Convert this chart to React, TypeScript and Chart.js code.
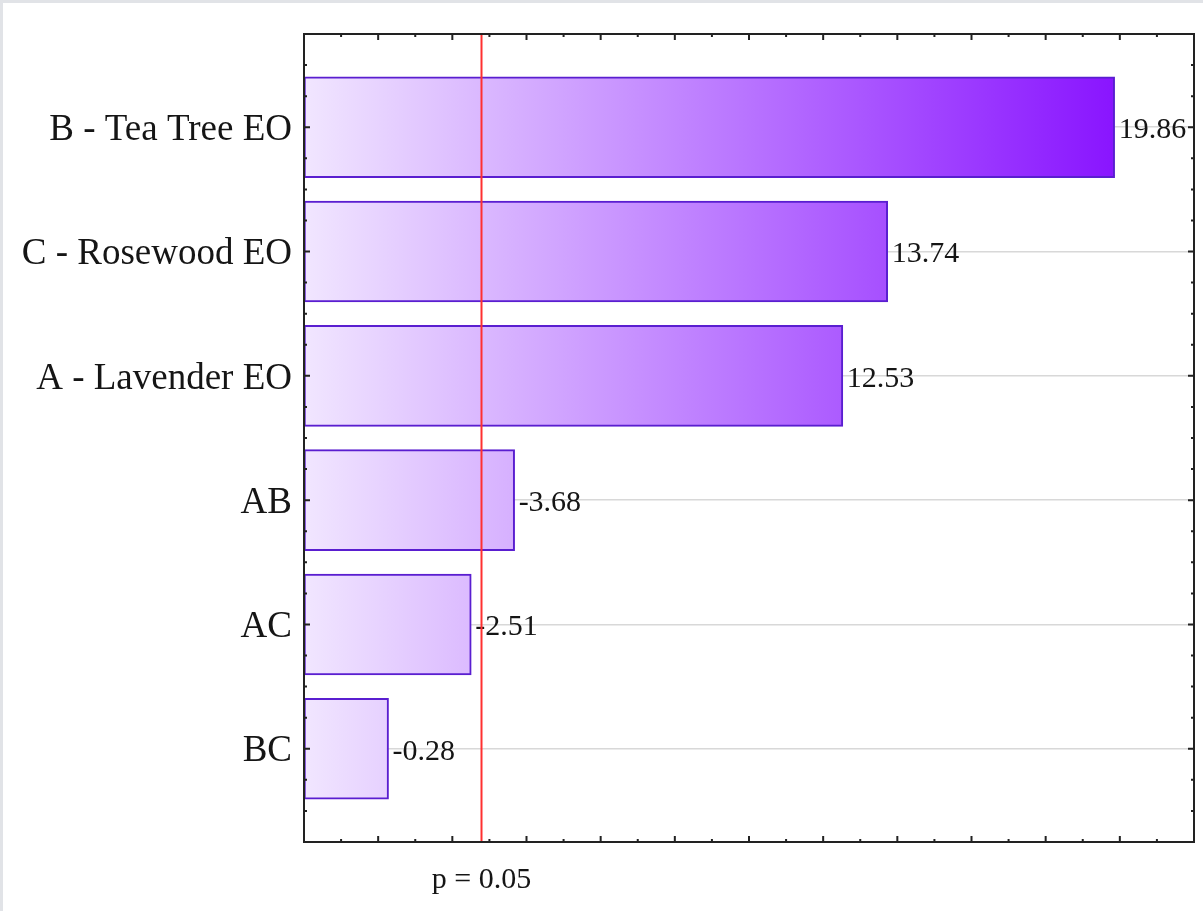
import React, { useEffect, useRef } from "react";
import { Chart, registerables } from "chart.js";

Chart.register(...registerables);

// ---- data ----
const categories: string[] = [
  "B - Tea Tree EO",
  "C - Rosewood EO",
  "A - Lavender EO",
  "AB",
  "AC",
  "BC",
];
const effects: number[] = [19.86, 13.74, 12.53, -3.68, -2.51, -0.28];
const pLimit = 2.776; // t-value for p = 0.05
const pLabel = "p = 0.05";
const xMin = -2;
const xMax = 22;

const SERIF = "'Liberation Serif', 'DejaVu Serif', serif";

export default function App() {
  const canvasRef = useRef<HTMLCanvasElement | null>(null);

  useEffect(() => {
    document.body.style.margin = "0";
    const canvas = canvasRef.current;
    if (!canvas) return;

    const overlay = {
      id: "paretoOverlay",
      afterDatasetsDraw(chart: any) {
        const { ctx, chartArea } = chart;
        const xs = chart.scales.x;
        const ys = chart.scales.y;
        const { left, right, top, bottom } = chartArea;
        ctx.save();

        // value labels
        ctx.font = `30px ${SERIF}`;
        ctx.fillStyle = "#151515";
        ctx.textAlign = "left";
        ctx.textBaseline = "middle";
        effects.forEach((v, i) => {
          const x = xs.getPixelForValue(Math.abs(v));
          const y = ys.getPixelForValue(i);
          ctx.fillText(v.toFixed(2), x + 4, y + 3);
        });

        // significance line
        const px = Math.round(xs.getPixelForValue(pLimit)) + 0.5;
        ctx.strokeStyle = "#ff3030";
        ctx.lineWidth = 2;
        ctx.beginPath();
        ctx.moveTo(px, top);
        ctx.lineTo(px, bottom);
        ctx.stroke();

        // frame
        ctx.strokeStyle = "#222222";
        ctx.lineWidth = 2;
        ctx.strokeRect(left, top, right - left, bottom - top);

        // inward ticks on x (top + bottom)
        ctx.lineWidth = 2;
        for (let v = Math.ceil(xMin); v <= xMax; v += 1) {
          const x = xs.getPixelForValue(v);
          if (x <= left + 1 || x >= right - 1) continue;
          const len = v % 2 === 0 ? 6 : 3;
          ctx.beginPath();
          ctx.moveTo(x, bottom);
          ctx.lineTo(x, bottom - len);
          ctx.moveTo(x, top);
          ctx.lineTo(x, top + len);
          ctx.stroke();
        }
        // inward ticks on y (left + right)
        ys.ticks.forEach((t: any) => {
          const y = ys.getPixelForValue(t.value);
          if (y <= top + 1 || y >= bottom - 1) return;
          const len = Number.isInteger(t.value) ? 6 : 3;
          ctx.beginPath();
          ctx.moveTo(left, y);
          ctx.lineTo(left + len, y);
          ctx.moveTo(right, y);
          ctx.lineTo(right - len, y);
          ctx.stroke();
        });

        // p label
        ctx.font = `30px ${SERIF}`;
        ctx.fillStyle = "#151515";
        ctx.textAlign = "center";
        ctx.textBaseline = "alphabetic";
        ctx.fillText(pLabel, px, bottom + 46);

        ctx.restore();
      },
    };

    const chart = new Chart(canvas, {
      type: "bar",
      data: {
        datasets: [
          {
            data: effects.map((v, i) => ({ x: [xMin, Math.abs(v)], y: i })) as any,
            backgroundColor: (c: any) => {
              const area = c.chart.chartArea;
              if (!area) return "#c080ff";
              const g = c.chart.ctx.createLinearGradient(area.left, 0, area.right, 0);
              g.addColorStop(0, "#f1e6ff");
              g.addColorStop(1, "#7f00ff");
              return g;
            },
            borderColor: "#5a1ed0",
            borderWidth: 2,
            borderSkipped: false,
            barThickness: 101,
          },
        ],
      },
      options: {
        indexAxis: "y",
        responsive: false,
        animation: false,
        layout: { padding: { top: 31, right: 9, bottom: 69, left: 0 } },
        plugins: {
          legend: { display: false },
          tooltip: { enabled: false },
        },
        scales: {
          x: {
            type: "linear",
            min: xMin,
            max: xMax,
            display: false,
          },
          y: {
            type: "linear",
            reverse: true,
            offset: false,
            min: -0.75,
            max: 5.75,
            afterFit: (scale: any) => {
              scale.width = 301;
              scale.paddingTop = 0;
              scale.paddingBottom = 0;
            },
            ticks: {
              stepSize: 0.25,
              autoSkip: false,
              padding: 12,
              labelOffset: 3,
              color: "#151515",
              font: { family: SERIF, size: 37 },
              callback: (value: any) =>
                Number.isInteger(value) ? categories[value] ?? "" : "",
            },
            grid: {
              offset: false,
              drawTicks: false,
              color: (c: any) =>
                c.tick && Number.isInteger(c.tick.value) ? "#d8d8d8" : "rgba(0,0,0,0)",
              lineWidth: 1.5,
            },
            border: { display: false },
          },
        },
      },
      plugins: [overlay],
    });

    return () => chart.destroy();
  }, []);

  return (
    <div
      style={{
        width: 1203,
        height: 911,
        boxSizing: "border-box",
        borderTop: "3px solid #e1e3e7",
        borderLeft: "3px solid #e1e3e7",
        background: "#ffffff",
        overflow: "hidden",
      }}
    >
      <canvas ref={canvasRef} width={1200} height={908} style={{ display: "block" }} />
    </div>
  );
}
